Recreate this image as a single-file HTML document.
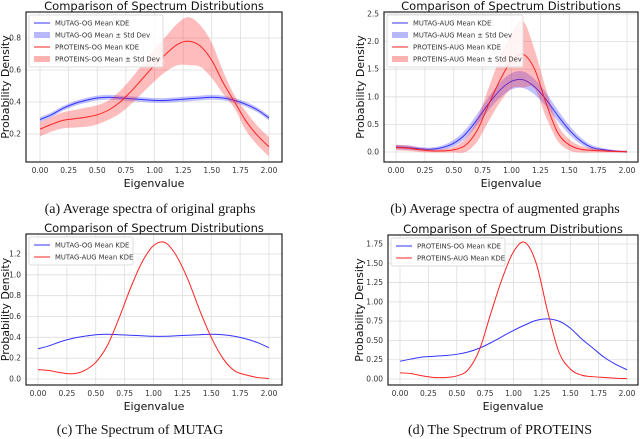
<!DOCTYPE html>
<html><head><meta charset="utf-8"><style>
body{margin:0;background:#fff;width:640px;height:439px;overflow:hidden;font-family:"DejaVu Sans","Liberation Sans",sans-serif}
svg{position:absolute;left:0;top:0}
.cap{font-family:"Liberation Serif",serif;font-size:14px;fill:#111}
</style></head><body>
<svg id="s" width="640" height="439"></svg>
<script>
const xs=[0,0.1,0.2,0.3,0.4,0.5,0.6,0.7,0.8,0.9,1.0,1.1,1.2,1.3,1.4,1.5,1.6,1.7,1.8,1.9,2.0];
const mutagOG=[0.29,0.32,0.36,0.39,0.41,0.425,0.43,0.425,0.42,0.415,0.41,0.41,0.415,0.42,0.425,0.43,0.425,0.41,0.385,0.35,0.30];
const mutagOGStd=[0.015,0.015,0.015,0.015,0.015,0.015,0.015,0.015,0.015,0.015,0.015,0.015,0.015,0.015,0.015,0.015,0.015,0.015,0.015,0.015,0.015];
const proteinsOG=[0.23,0.26,0.285,0.295,0.305,0.32,0.35,0.40,0.47,0.55,0.63,0.70,0.76,0.78,0.75,0.66,0.52,0.40,0.28,0.19,0.12];
const proteinsOGStd=[0.045,0.045,0.05,0.055,0.06,0.06,0.06,0.07,0.08,0.09,0.1,0.11,0.13,0.15,0.13,0.11,0.07,0.04,0.06,0.06,0.06];
const mutagAUG=[0.09,0.08,0.06,0.05,0.08,0.16,0.32,0.58,0.87,1.12,1.28,1.31,1.18,0.95,0.66,0.40,0.20,0.08,0.04,0.015,0.005];
const mutagAUGStd=[0.04,0.04,0.03,0.03,0.04,0.06,0.08,0.1,0.12,0.14,0.15,0.15,0.14,0.12,0.1,0.08,0.06,0.04,0.03,0.02,0.02];
const proteinsAUG=[0.08,0.07,0.04,0.02,0.02,0.04,0.12,0.38,0.85,1.30,1.65,1.77,1.50,0.88,0.35,0.13,0.05,0.03,0.02,0.01,0.005];
const proteinsAUGStd=[0.05,0.05,0.04,0.03,0.03,0.05,0.12,0.2,0.3,0.4,0.5,0.6,0.35,0.25,0.15,0.1,0.06,0.04,0.03,0.02,0.02];
const xTicks=["0.00","0.25","0.50","0.75","1.00","1.25","1.50","1.75","2.00"];

const S=document.getElementById('s');const NS='http://www.w3.org/2000/svg';
function el(t,a,p){const e=document.createElementNS(NS,t);for(const k in a)e.setAttribute(k,a[k]);(p||S).appendChild(e);return e;}
function txt(x,y,s,a,p){const e=el('text',Object.assign({x:x,y:y},a),p);e.textContent=s;return e;}
function smooth(pts){let d='M'+pts[0][0]+','+pts[0][1];
 for(let i=0;i<pts.length-1;i++){const p0=pts[Math.max(0,i-1)],p1=pts[i],p2=pts[i+1],p3=pts[Math.min(pts.length-1,i+2)];
 d+=' C'+(p1[0]+(p2[0]-p0[0])/6)+','+(p1[1]+(p2[1]-p0[1])/6)+' '+(p2[0]-(p3[0]-p1[0])/6)+','+(p2[1]-(p3[1]-p1[1])/6)+' '+p2[0]+','+p2[1];}
 return d;}
function panel(cfg){
 const g=el('g',{});
 const X=v=>cfg.x0+(cfg.x1-cfg.x0)*v/2, Y=v=>cfg.y0-(v-cfg.v0)*(cfg.y0-cfg.yv1)/(cfg.v1-cfg.v0);
 el('rect',{x:cfg.L,y:cfg.T,width:cfg.R-cfg.L,height:cfg.B-cfg.T,fill:'#fff'},g);
 xTicks.forEach(t=>{const px=X(+t);const l=el('line',{x1:px,x2:px,y1:cfg.T,y2:cfg.B,stroke:'#ddd','stroke-width':0.8},g);
  const tt=txt(px,cfg.B+11,t,{'font-size':7.5,fill:'#333','text-anchor':'middle'},g);});
 cfg.yTicks.forEach(t=>{const py=Y(+t);el('line',{x1:cfg.L,x2:cfg.R,y1:py,y2:py,stroke:'#ddd','stroke-width':0.8},g);
  const tt=txt(cfg.L-5,py+2.5,t,{'font-size':7.5,fill:'#333','text-anchor':'end'},g);});
 cfg.series.forEach(s=>{
  if(s.std){const up=xs.map((x,i)=>[X(x),Y(s.d[i]+s.std[i])]),lo=xs.map((x,i)=>[X(x),Y(s.d[i]-s.std[i])]).reverse();
   const b=el('path',{d:smooth(up)+' L'+smooth(lo).slice(1)+' Z',fill:s.c,'fill-opacity':0.3,stroke:'none'},g);}
  const p=el('path',{d:smooth(xs.map((x,i)=>[X(x),Y(s.d[i])])),fill:'none',stroke:s.c,'stroke-width':1},g);});
 el('rect',{x:cfg.L,y:cfg.T,width:cfg.R-cfg.L,height:cfg.B-cfg.T,fill:'none',stroke:'#222','stroke-width':1.2},g);
 const ti=txt((cfg.L+cfg.R)/2,cfg.T-2,'Comparison of Spectrum Distributions',{'font-size':11.5,fill:'#111','text-anchor':'middle'},g);
 const xl=txt((cfg.L+cfg.R)/2,cfg.B+25,'Eigenvalue',{'font-size':11,fill:'#111','text-anchor':'middle'},g);
 const yl=txt(0,0,'Probability Density',{'font-size':11,fill:'#111','text-anchor':'middle',transform:'translate('+cfg.ylx+','+(cfg.T+cfg.B)/2+') rotate(-90)'},g);
 const lg=el('g',{},g);
 const lh=cfg.leg.length*12+4;el('rect',{x:cfg.L+3,y:cfg.T+3,width:cfg.legW,height:lh,fill:'#fff','fill-opacity':0.85,stroke:'#ddd',rx:2},lg);
 cfg.leg.forEach((e,i)=>{const yy=cfg.T+11+i*12;
  if(e.band)el('rect',{x:cfg.L+8,y:yy-3,width:16,height:6,fill:e.c,'fill-opacity':0.35},lg);else el('line',{x1:cfg.L+8,x2:cfg.L+24,y1:yy,y2:yy,stroke:e.c,'stroke-width':1},lg);
  const le=txt(cfg.L+29,yy+2.5,e.t,{'font-size':6.8,fill:'#333'},lg);});
 const c=txt(cfg.capx,cfg.capy,cfg.cap,{class:'cap','text-anchor':'middle'},g);
}
const B='#3333ff',Rd='#ff2222';
panel({name:'panel-a',L:26,R:282,T:12,B:162,x0:40,x1:269,v0:0.2,y0:134,v1:0.8,yv1:38,yTicks:['0.2','0.4','0.6','0.8'],ylx:9,legW:134,
 series:[{d:mutagOG,std:mutagOGStd,c:B},{d:proteinsOG,std:proteinsOGStd,c:Rd}],
 leg:[{t:'MUTAG-OG Mean KDE',c:B},{t:'MUTAG-OG Mean ± Std Dev',c:B,band:1},{t:'PROTEINS-OG Mean KDE',c:Rd},{t:'PROTEINS-OG Mean ± Std Dev',c:Rd,band:1}],
 cap:'(a) Average spectra of original graphs',capx:150,capy:213});
panel({name:'panel-b',L:384,R:638,T:12,B:162,x0:396,x1:627,v0:0,y0:152,v1:2.5,yv1:14,yTicks:['0.0','0.5','1.0','1.5','2.0','2.5'],ylx:364,legW:136,
 series:[{d:mutagAUG,std:mutagAUGStd,c:B},{d:proteinsAUG,std:proteinsAUGStd,c:Rd}],
 leg:[{t:'MUTAG-AUG Mean KDE',c:B},{t:'MUTAG-AUG Mean ± Std Dev',c:B,band:1},{t:'PROTEINS-AUG Mean KDE',c:Rd},{t:'PROTEINS-AUG Mean ± Std Dev',c:Rd,band:1}],
 cap:'(b) Average spectra of augmented graphs',capx:505,capy:213});
panel({name:'panel-c',L:26,R:282,T:234,B:385,x0:38,x1:269,v0:0,y0:379,v1:1.2,yv1:254,yTicks:['0.0','0.2','0.4','0.6','0.8','1.0','1.2'],ylx:9,legW:104,
 series:[{d:mutagOG,c:B},{d:mutagAUG,c:Rd}],
 leg:[{t:'MUTAG-OG Mean KDE',c:B},{t:'MUTAG-AUG Mean KDE',c:Rd}],
 cap:'(c) The Spectrum of MUTAG',capx:140,capy:434});
panel({name:'panel-d',L:388,R:638,T:235,B:385,x0:400,x1:627,v0:0,y0:379,v1:1.75,yv1:244,yTicks:['0.00','0.25','0.50','0.75','1.00','1.25','1.50','1.75'],ylx:363,legW:114,
 series:[{d:proteinsOG,c:B},{d:proteinsAUG,c:Rd}],
 leg:[{t:'PROTEINS-OG Mean KDE',c:B},{t:'PROTEINS-AUG Mean KDE',c:Rd}],
 cap:'(d) The Spectrum of PROTEINS',capx:500,capy:434});
</script>
</body></html>
